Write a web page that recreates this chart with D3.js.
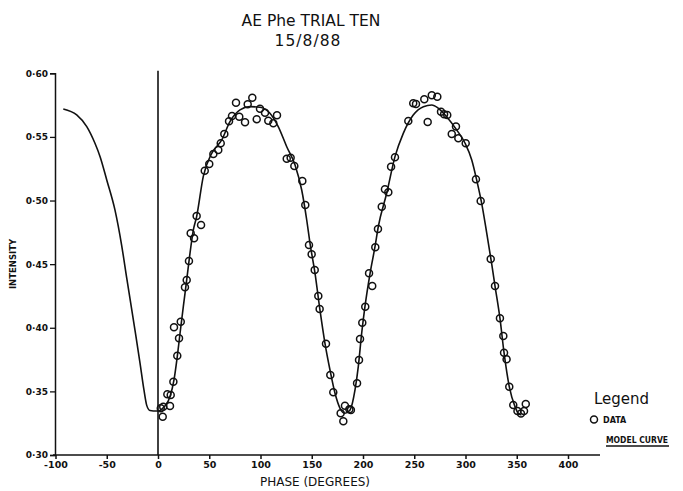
<!DOCTYPE html>
<html>
<head>
<meta charset="utf-8">
<script src="https://cdn.jsdelivr.net/npm/d3@7"></script>
<style>
  body { margin: 0; background: #fff; }
  svg { display: block; }
</style>
</head>
<body>
<div class="visContainer"></div>
<script>
// Tick values.
const phaseTicks = [-100, -50, 0, 50, 100, 150, 200, 250, 300, 350, 400];
const intensityTicks = [0.30, 0.35, 0.40, 0.45, 0.50, 0.55, 0.60];

// Observed points (phase in degrees, intensity).
const dataPhase = [2.7, 4.6, 5.1, 9.1, 12.4, 11.7, 15.0, 18.8, 20.5, 15.6, 22.2, 26.3, 28.0, 30.2,
    31.9, 35.2, 37.7, 42.0, 45.6, 50.0, 54.0, 58.8, 61.2, 64.7, 69.3, 72.2, 76.1, 79.3, 84.9,
    87.5, 92.0, 96.3, 99.5, 104.4, 107.6, 112.5, 116.1, 125.6, 129.4, 133.0, 140.8, 143.7,
    147.3, 149.9, 152.9, 156.4, 157.7, 163.9, 168.1, 171.0, 178.2, 180.8, 182.4, 186.7, 188.2,
    194.2, 196.1, 197.1, 199.3, 202.2, 209.0, 205.9, 212.0, 214.6, 218.3, 221.4, 224.7, 227.4,
    231.2, 244.2, 249.0, 251.7, 259.8, 263.1, 267.1, 272.5, 276.1, 279.1, 282.2, 286.6, 290.7,
    293.0, 300.2, 310.2, 314.8, 324.6, 328.8, 333.6, 336.9, 337.6, 340.1, 342.7, 346.6, 358.8,
    350.7, 354.1, 357.1];
const dataIntensity = [0.3367, 0.3301, 0.3380, 0.3477, 0.3472, 0.3385, 0.3576, 0.3780, 0.3917,
    0.4004, 0.4048, 0.4318, 0.4376, 0.4525, 0.4743, 0.4703, 0.4879, 0.4808, 0.5235, 0.5288,
    0.5366, 0.5398, 0.5450, 0.5523, 0.5623, 0.5665, 0.5769, 0.5659, 0.5615, 0.5757, 0.5808,
    0.5639, 0.5722, 0.5690, 0.5628, 0.5607, 0.5670, 0.5329, 0.5337, 0.5272, 0.5154, 0.4965,
    0.4651, 0.4578, 0.4454, 0.4250, 0.4148, 0.3875, 0.3629, 0.3493, 0.3328, 0.3265, 0.3388,
    0.3359, 0.3354, 0.3564, 0.3747, 0.3912, 0.4040, 0.4166, 0.4328, 0.4428, 0.4633, 0.4776,
    0.4952, 0.5088, 0.5065, 0.5266, 0.5340, 0.5625, 0.5765, 0.5759, 0.5796, 0.5617, 0.5827,
    0.5816, 0.5698, 0.5678, 0.5672, 0.5523, 0.5581, 0.5489, 0.5450, 0.5167, 0.4997, 0.4541,
    0.4328, 0.4074, 0.3935, 0.3804, 0.3752, 0.3537, 0.3393, 0.3401, 0.3346, 0.3326, 0.3346];

// Model curve.
const modelPhase = [-92.4, -79.3, -69.5, -61.5, -56.5, -50.0, -42.0, -35.5, -30.5, -22.5, -17.5,
    -13.7, -11.0, -7.8, -1.3, 0, 5.8, 11.7, 15.6, 18.8, 21.5, 24.7, 28.0, 31.2, 34.5, 37.7,
    44.2, 52.4, 62.2, 70.2, 80.0, 89.7, 99.5, 109.2, 117.3, 125.6, 133.7, 140.2, 145.1, 148.3,
    153.2, 158.0, 162.9, 167.8, 172.7, 177.6, 182.4, 187.4, 192.2, 195.4, 198.7, 201.9, 206.9,
    211.7, 214.9, 223.1, 231.2, 239.3, 249.0, 258.9, 267.1, 273.5, 281.6, 291.4, 299.6, 306.1,
    310.9, 315.8, 320.6, 325.6, 328.8, 333.6, 337.6, 342.7, 348.3, 351.5, 354.6];
const modelIntensity = [0.5720, 0.5673, 0.5581, 0.5450, 0.5345, 0.5162, 0.4926, 0.4650, 0.4390,
    0.3983, 0.3721, 0.3511, 0.3390, 0.3350, 0.3346, 0.3346, 0.3377, 0.3458, 0.3590, 0.3773,
    0.3957, 0.4166, 0.4376, 0.4585, 0.4769, 0.4874, 0.5190, 0.5371, 0.5476, 0.5620, 0.5712,
    0.5738, 0.5733, 0.5686, 0.5581, 0.5423, 0.5280, 0.5083, 0.4847, 0.4664, 0.4428, 0.4140,
    0.3878, 0.3668, 0.3485, 0.3367, 0.3328, 0.3354, 0.3511, 0.3694, 0.3957, 0.4166, 0.4428,
    0.4637, 0.4794, 0.5057, 0.5345, 0.5528, 0.5672, 0.5738, 0.5751, 0.5725, 0.5659, 0.5555,
    0.5450, 0.5319, 0.5162, 0.4978, 0.4750, 0.4500, 0.4328, 0.4075, 0.3804, 0.3537, 0.3380,
    0.3328, 0.3314];

// Reference line at zero phase.
const zeroLineIntensity = [0.30, 0.602];

const width = 683;
const height = 491;
const ink = '#111';
const font = 'DejaVu Sans, sans-serif';

const svg = d3.select('.visContainer')
              .append('svg')
              .attr('width', width)
              .attr('height', height);

const x = d3.scaleLinear().domain([-100, 400]).range([55.5, 568]);
const y = d3.scaleLinear().domain([0.30, 0.60]).range([455, 73.3]);

// Title.
svg.append('text')
   .attr('x', 311).attr('y', 26)
   .attr('text-anchor', 'middle')
   .attr('font-family', font)
   .attr('font-size', '15.5px')
   .attr('fill', ink)
   .text('AE Phe TRIAL TEN');
svg.append('text')
   .attr('x', 308).attr('y', 46)
   .attr('text-anchor', 'middle')
   .attr('font-family', font)
   .attr('font-size', '15.5px')
   .attr('letter-spacing', '1px')
   .attr('fill', ink)
   .text('15/8/88');

// X axis.
const xAxis = svg.append('g')
   .attr('transform', `translate(0,${y(0.30)})`)
   .call(d3.axisBottom(x).tickValues(phaseTicks).tickSize(4).tickFormat(d3.format('d')));
xAxis.select('.domain').remove();
xAxis.selectAll('line').attr('stroke', ink).attr('stroke-width', 1.5);
xAxis.selectAll('text')
     .attr('font-family', font).attr('font-weight', 'bold')
     .attr('font-size', '9.5px').attr('fill', ink).attr('dy', '0.6em')
     .text(d => d < 0 ? '-' + Math.abs(d) : d);
svg.append('line')
   .attr('x1', 53).attr('x2', 600)
   .attr('y1', y(0.30)).attr('y2', y(0.30))
   .attr('stroke', ink).attr('stroke-width', 1.6);

// Y axis.
const yAxis = svg.append('g')
   .attr('transform', 'translate(55,0)')
   .call(d3.axisLeft(y).tickValues(intensityTicks).tickSize(5)
           .tickFormat(d => d3.format('.2f')(d).replace('.', '·')));
yAxis.select('.domain').attr('stroke', ink).attr('stroke-width', 1.5);
yAxis.selectAll('line').attr('stroke', ink).attr('stroke-width', 1.3);
yAxis.selectAll('text')
     .attr('font-family', font).attr('font-weight', 'bold')
     .attr('font-size', '9px').attr('fill', ink).attr('x', -7);

// Axis titles.
svg.append('text')
   .attr('x', 315).attr('y', 486)
   .attr('text-anchor', 'middle')
   .attr('font-family', font)
   .attr('font-size', '12px')
   .attr('fill', ink)
   .text('PHASE (DEGREES)');
svg.append('text')
   .attr('transform', 'translate(16,264) rotate(-90)')
   .attr('text-anchor', 'middle')
   .attr('font-family', font)
   .attr('font-weight', 'bold')
   .attr('font-size', '8.5px')
   .attr('fill', ink)
   .text('INTENSITY');

// Zero phase line.
svg.append('line')
   .attr('x1', x(0)).attr('x2', x(0))
   .attr('y1', y(zeroLineIntensity[0])).attr('y2', y(zeroLineIntensity[1]))
   .attr('stroke', ink).attr('stroke-width', 1.6);

// Model curve.
const model = modelPhase.map((p, i) => [p, modelIntensity[i]]);
svg.append('path')
   .datum(model)
   .attr('fill', 'none')
   .attr('stroke', ink)
   .attr('stroke-width', 1.6)
   .attr('d', d3.line().x(d => x(d[0])).y(d => y(d[1])).curve(d3.curveMonotoneX));

// Data points.
const points = dataPhase.map((p, i) => [p, dataIntensity[i]]);
svg.append('g')
   .selectAll('circle')
   .data(points)
   .join('circle')
   .attr('cx', d => x(d[0]))
   .attr('cy', d => y(d[1]))
   .attr('r', 3.5)
   .attr('fill', 'none')
   .attr('stroke', ink)
   .attr('stroke-width', 1.5);

// Legend.
svg.append('text')
   .attr('x', 594).attr('y', 404)
   .attr('font-family', font)
   .attr('font-size', '15px')
   .attr('fill', ink)
   .text('Legend');
svg.append('circle')
   .attr('cx', 594).attr('cy', 419.5).attr('r', 3.5)
   .attr('fill', 'none').attr('stroke', ink).attr('stroke-width', 1.5);
svg.append('text')
   .attr('x', 603).attr('y', 423)
   .attr('font-family', font).attr('font-weight', 'bold')
   .attr('font-size', '8px').attr('fill', ink)
   .text('DATA');
svg.append('text')
   .attr('x', 606).attr('y', 443)
   .attr('font-family', 'DejaVu Sans Condensed, DejaVu Sans, sans-serif').attr('font-weight', 'bold')
   .attr('font-size', '8.5px').attr('fill', ink)
   .text('MODEL CURVE');
svg.append('line')
   .attr('x1', 606).attr('x2', 669)
   .attr('y1', 446).attr('y2', 446)
   .attr('stroke', ink).attr('stroke-width', 1.3);
</script>
</body>
</html>
